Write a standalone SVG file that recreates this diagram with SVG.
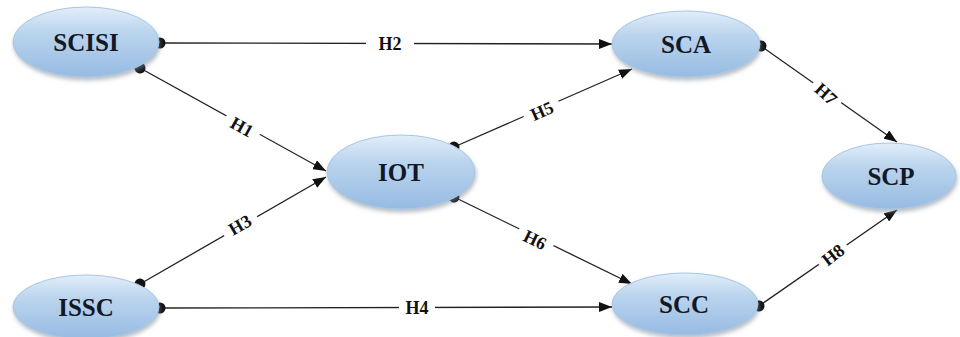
<svg xmlns="http://www.w3.org/2000/svg" width="960" height="337" viewBox="0 0 960 337">
<defs>
<linearGradient id="g" x1="0" y1="0" x2="0" y2="1">
<stop offset="0" stop-color="#e2eefa"/>
<stop offset="0.35" stop-color="#bcd5ee"/>
<stop offset="1" stop-color="#96bbe2"/>
</linearGradient>
<filter id="sh" x="-20%" y="-20%" width="140%" height="150%">
<feDropShadow dx="1" dy="3" stdDeviation="2" flood-color="#7a8796" flood-opacity="0.55"/>
</filter>
<marker id="arr" markerUnits="userSpaceOnUse" markerWidth="14" markerHeight="10" refX="13" refY="5" orient="auto">
<path d="M0,0 L13,5 L0,10 z" fill="#111"/>
</marker>
<marker id="dot" markerUnits="userSpaceOnUse" markerWidth="12" markerHeight="12" refX="6" refY="6" orient="auto">
<circle cx="6" cy="6" r="5.5" fill="#111"/>
</marker>
<style>
.n ellipse{fill:url(#g);stroke:#a9c6e3;stroke-width:1;filter:url(#sh)}
.n text{font-family:"Liberation Serif","Times New Roman",serif;font-weight:bold;font-size:25px;fill:#121826;text-anchor:middle}
.c line{stroke:#222;stroke-width:1.3;marker-start:url(#dot);marker-end:url(#arr)}
.l rect{fill:#fff}
.l text{font-family:"Liberation Serif","Times New Roman",serif;font-weight:bold;font-size:18px;fill:#111;text-anchor:middle}
</style>
</defs>
<rect width="960" height="337" fill="#fff"/>
<g id="connectors" class="c">
<line x1="160" y1="43" x2="612" y2="44"/>
<line x1="140" y1="68" x2="326" y2="171"/>
<line x1="140" y1="284" x2="326" y2="177"/>
<line x1="160" y1="308" x2="612" y2="307"/>
<line x1="454" y1="147" x2="632" y2="69"/>
<line x1="454" y1="197" x2="632" y2="284"/>
<line x1="761" y1="46" x2="897" y2="142"/>
<line x1="759" y1="306" x2="897" y2="210"/>
</g>
<g id="labels" class="l">
<g transform="translate(390,44)"><rect x="-24" y="-10" width="48" height="20"/><text y="6">H2</text></g>
<g transform="translate(242,127) rotate(29)"><rect x="-19" y="-10" width="38" height="20"/><text y="6">H1</text></g>
<g transform="translate(240,225) rotate(-30)"><rect x="-19" y="-10" width="38" height="20"/><text y="6">H3</text></g>
<g transform="translate(417,308)"><rect x="-18" y="-10" width="36" height="20"/><text y="6">H4</text></g>
<g transform="translate(542,111) rotate(-24)"><rect x="-19" y="-10" width="38" height="20"/><text y="6">H5</text></g>
<g transform="translate(535,240) rotate(26)"><rect x="-19" y="-10" width="38" height="20"/><text y="6">H6</text></g>
<g transform="translate(826,94) rotate(42)"><rect x="-17" y="-10" width="34" height="20"/><text y="6">H7</text></g>
<g transform="translate(833,255) rotate(-38)"><rect x="-17" y="-10" width="34" height="20"/><text y="6">H8</text></g>
</g>
<g id="SCISI" class="n"><ellipse cx="86" cy="42" rx="73" ry="35"/><text x="86" y="51">SCISI</text></g>
<g id="SCA" class="n"><ellipse cx="686" cy="44" rx="74" ry="33"/><text x="686" y="53">SCA</text></g>
<g id="IOT" class="n"><ellipse cx="401" cy="172" rx="74" ry="37"/><text x="401" y="181">IOT</text></g>
<g id="SCP" class="n"><ellipse cx="889" cy="176" rx="67" ry="33"/><text x="891" y="185">SCP</text></g>
<g id="ISSC" class="n"><ellipse cx="86" cy="307" rx="73" ry="32"/><text x="86" y="316">ISSC</text></g>
<g id="SCC" class="n"><ellipse cx="685" cy="304" rx="73" ry="31"/><text x="684" y="313">SCC</text></g>
</svg>
